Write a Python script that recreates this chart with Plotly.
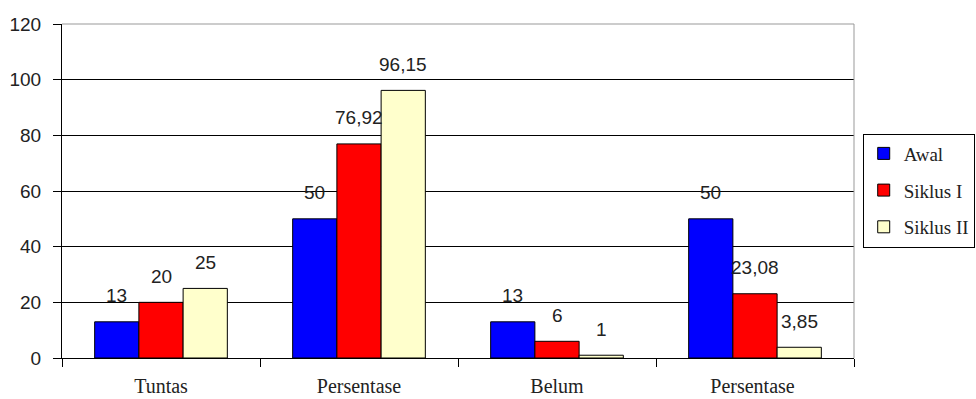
import plotly.graph_objects as go

categories = ["Tuntas", "Persentase", "Belum", "Persentase "]
series_names = ["Awal", "Siklus I", "Siklus II"]
awal = [13, 50, 13, 50]
siklus1 = [20, 76.92, 6, 23.08]
siklus2 = [25, 96.15, 1, 3.85]
colors = ["#0000FF", "#FF0000", "#FFFFCC"]
y_ticks = [0, 20, 40, 60, 80, 100, 120]

series = [awal, siklus1, siklus2]
BARGAP = 0.33

def fmt(v):
    return f"{v:g}".replace(".", ",")

fig = go.Figure()
for name, vals, col in zip(series_names, series, colors):
    fig.add_trace(go.Bar(
        x=list(range(len(categories))), y=vals, name=name,
        marker=dict(color=col, line=dict(color="black", width=1)),
        legendgroup=name,
    ))

# data labels placed above bars using the axis data scale
n = len(series)
w = (1 - BARGAP) / n
for i, vals in enumerate(series):
    for j, v in enumerate(vals):
        fig.add_annotation(
            x=j + (i - (n - 1) / 2) * w, y=v, xref="x", yref="y",
            text=fmt(v), showarrow=False, yanchor="middle", yshift=26,
            font=dict(family="Liberation Sans", size=19, color="#222"),
        )

fig.update_layout(
    width=976, height=399,
    margin=dict(l=62, r=122, t=24, b=41, autoexpand=False),
    paper_bgcolor="white", plot_bgcolor="white",
    barmode="group", bargap=BARGAP, bargroupgap=0,
    legend=dict(
        x=1.0110, y=0.672, xanchor="left", yanchor="top",
        bordercolor="black", borderwidth=1, bgcolor="white",
        font=dict(family="Liberation Serif", size=19, color="#222"),
        traceorder="grouped", tracegroupgap=9,
    ),
    showlegend=True,
)
fig.update_xaxes(
    type="linear", range=[-0.5, len(categories) - 0.5],
    tickvals=list(range(len(categories))), ticktext=categories,
    showline=True, linecolor="black", linewidth=1,
    ticks="", showgrid=False, zeroline=False,
    tickfont=dict(family="Liberation Serif", size=20, color="#222"),
    ticklabelstandoff=10,
)
# boundary ticks on x axis
fig.update_layout(xaxis2=dict(
    overlaying="x", matches="x", side="bottom", anchor="y",
    tickvals=[k + 0.5 for k in range(-1, len(categories))],
    showticklabels=False, ticks="outside", ticklen=8, tickcolor="black",
    showgrid=False, zeroline=False, showline=False,
))
fig.add_trace(go.Scatter(x=[], y=[], xaxis="x2", showlegend=False))
fig.update_yaxes(
    range=[0, 120], tickvals=y_ticks,
    showline=True, linecolor="black", linewidth=1,
    ticks="outside", ticklen=8, tickcolor="black",
    showgrid=True, gridcolor="black", gridwidth=1, zeroline=False,
    tickfont=dict(family="Liberation Sans", size=19, color="#222"),
    ticklabelstandoff=8,
)
# gray plot-area border top and right
fig.add_shape(type="line", xref="paper", yref="paper", x0=0, x1=1, y0=1, y1=1,
              line=dict(color="#999999", width=1), layer="above")
fig.add_shape(type="line", xref="paper", yref="paper", x0=1, x1=1, y0=0, y1=1,
              line=dict(color="#999999", width=1), layer="above")

fig.write_html("out.html")
